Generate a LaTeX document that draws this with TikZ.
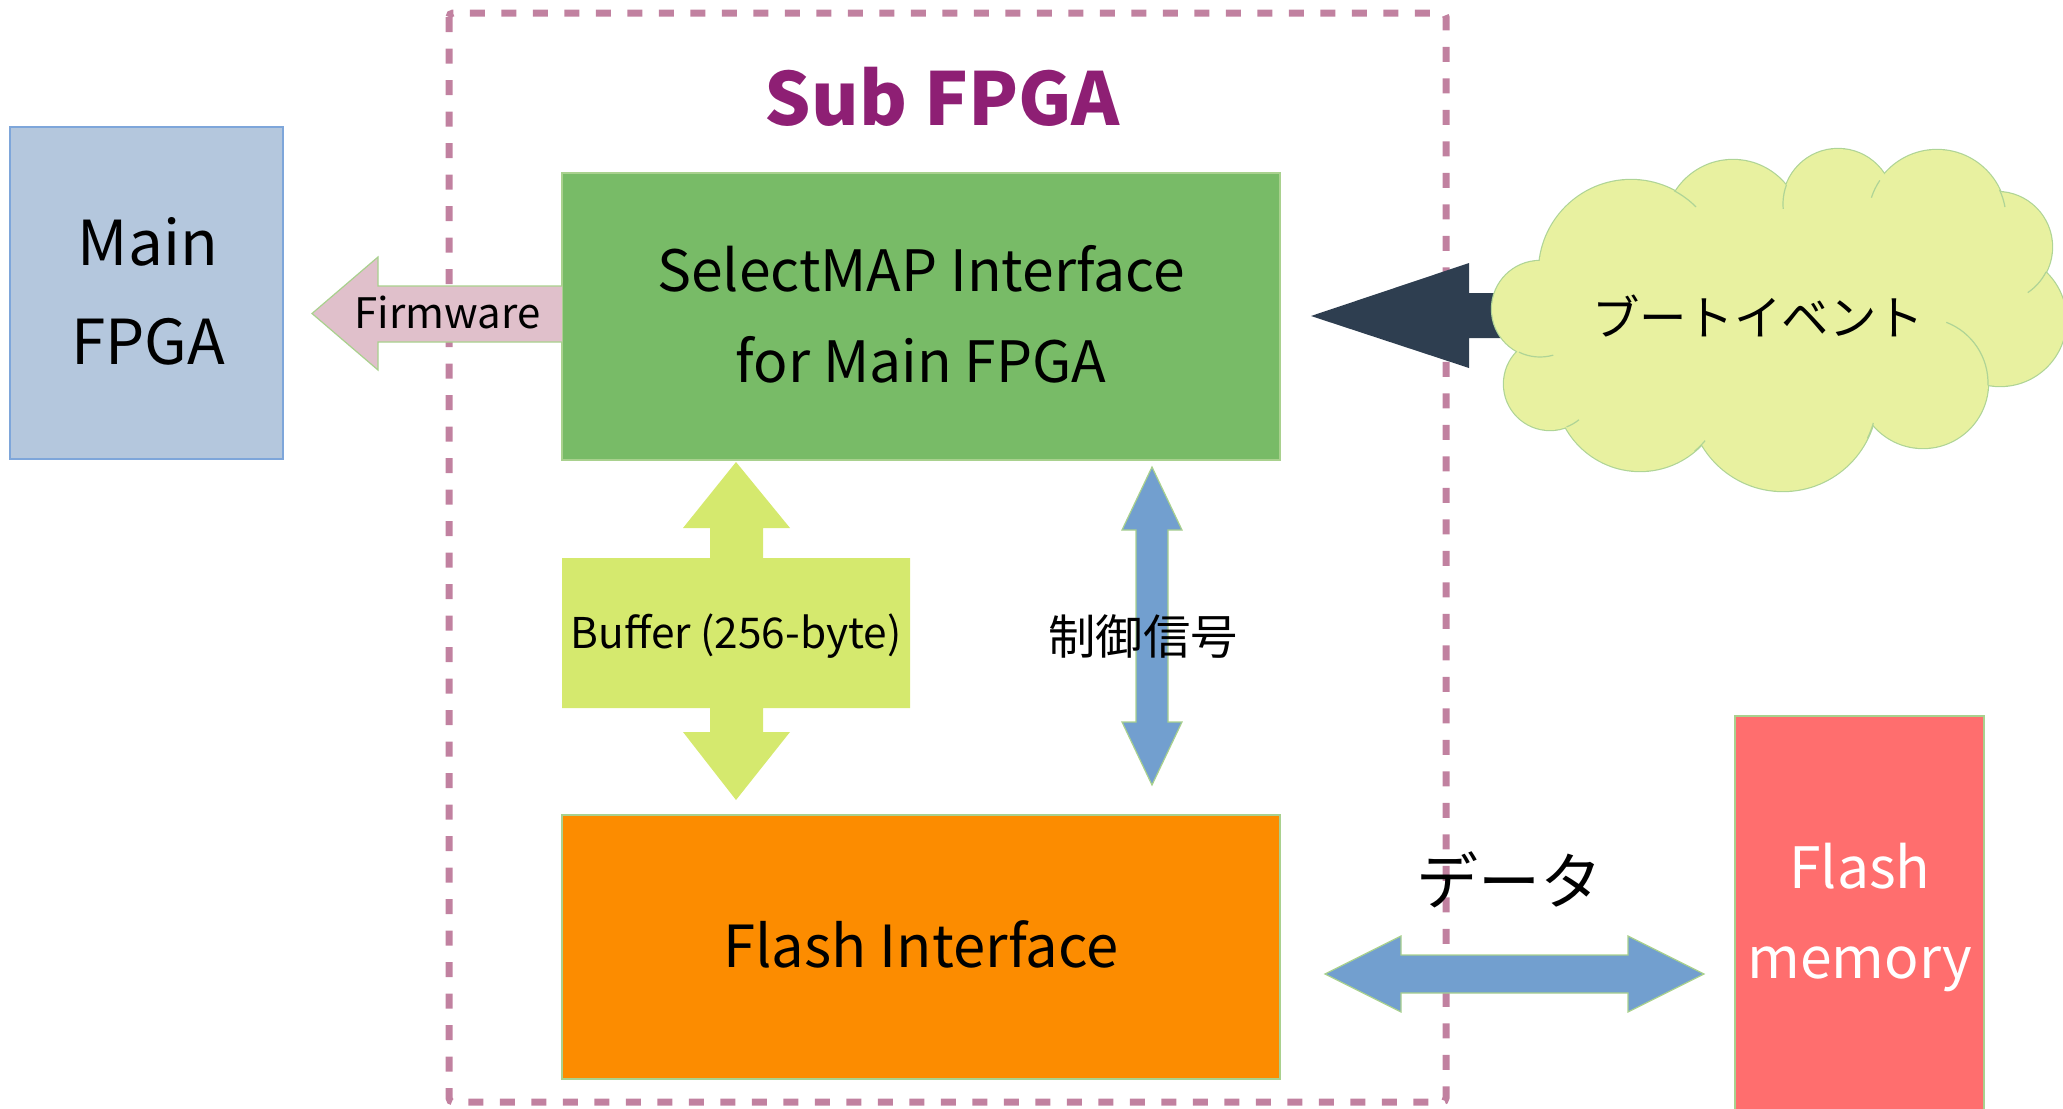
\documentclass[tikz,border=0pt]{standalone}
\usepackage{fontspec}
\setmainfont{Noto Sans CJK JP}
\usetikzlibrary{calc}
\definecolor{mainfill}{RGB}{180,199,221}
\definecolor{mainline}{RGB}{126,166,218}
\definecolor{framecol}{RGB}{193,129,160}
\definecolor{titlecol}{RGB}{142,31,116}
\definecolor{greenfill}{RGB}{120,187,103}
\definecolor{thinline}{RGB}{169,209,142}
\definecolor{pinkfill}{RGB}{224,192,203}
\definecolor{darkarrow}{RGB}{46,62,80}
\definecolor{cloudfill}{RGB}{232,241,160}
\definecolor{cloudline}{RGB}{175,212,150}
\definecolor{bufferfill}{RGB}{213,233,110}
\definecolor{bluearrow}{RGB}{114,159,207}
\definecolor{orangefill}{RGB}{252,140,0}
\definecolor{redfill}{RGB}{255,110,110}
\tikzset{
  blk/.style={rectangle, inner sep=0pt, line width=0.75pt},
  lbl/.style={inner sep=0pt, anchor=base},
  blockarrow/.style={line width=0.6pt, draw=thinline},
  fs/.style={font=\fontsize{#1}{#1}\selectfont}
}
\begin{document}
\begin{tikzpicture}[x=0.5pt,y=-0.5pt]
\useasboundingbox (0,0) rectangle (2063,1109);

% Main FPGA
\node[blk, fill=mainfill, draw=mainline, minimum width=136.5pt, minimum height=166pt] (mainfpga) at (146.5,293) {};
\node[lbl, fs=31] (mainA) at (148,265) {Main};
\node[lbl, fs=31] (mainB) at (148,364) {FPGA};

% Sub FPGA frame
\draw[framecol, line width=3.5pt, dash pattern=on 7.5pt off 8.25pt, rounded corners=2pt] (449,13) rectangle (1446,1102);
\node[lbl, text=titlecol, font=\bfseries\fontsize{36.5}{36.5}\selectfont] (title) at (942,125) {Sub FPGA};

% SelectMAP box
\node[blk, fill=greenfill, draw=thinline, minimum width=359pt, minimum height=143.5pt] (selmap) at (921,316.5) {};
\node[lbl, fs=28.5] (selA) at (921,291) {SelectMAP Interface};
\node[lbl, fs=28.5] (selB) at (921,382) {for Main FPGA};

% Firmware arrow
\filldraw[blockarrow, fill=pinkfill] (562,286) -- (378,286) -- (378,257) -- (312,313.5) -- (378,370) -- (378,342) -- (562,342);
\node[lbl, fs=21] (firmware) at (447.5,328) {Firmware};

% Buffer double arrow with box
\fill[bufferfill] (736,462) -- (790,528) -- (763,528) -- (763,558) -- (910,558) -- (910,708) -- (763,708) -- (763,732) -- (790,732) -- (736,800) -- (683,732) -- (710,732) -- (710,708) -- (562,708) -- (562,558) -- (710,558) -- (710,528) -- (683,528) -- cycle;
\node[lbl, fs=21.2] (buffer) at (736,648) {Buffer (256-byte)};

% control arrow
\filldraw[blockarrow, fill=bluearrow] (1152,467) -- (1182,530) -- (1168,530) -- (1168,722) -- (1182,722) -- (1152,785) -- (1122,722) -- (1136,722) -- (1136,530) -- (1122,530) -- cycle;
\node[inner sep=0pt, fs=23.7] (ctrl) at (1143,637) {制御信号};

% Flash interface
\node[blk, fill=orangefill, draw=thinline, minimum width=359pt, minimum height=132pt] (flashif) at (921,947) {};
\node[lbl, fs=29] (flashiftxt) at (921,967) {Flash Interface};

% data arrow
\filldraw[blockarrow, fill=bluearrow] (1325,974) -- (1401,936) -- (1401,955) -- (1628,955) -- (1628,936) -- (1704,974) -- (1628,1012) -- (1628,993) -- (1401,993) -- (1401,1012) -- cycle;
\node[inner sep=0pt, fs=31] (data) at (1509,880) {データ};

% Flash memory
\node[blk, fill=redfill, draw=thinline, minimum width=124.5pt, minimum height=202pt] (flashmem) at (1859.5,918) {};
\node[lbl, fs=28.5, text=white] (fmA) at (1860,888) {Flash};
\node[lbl, fs=28.5, text=white] (fmB) at (1860,978) {memory};

% boot arrow
\fill[darkarrow] (1540,293) -- (1469,293) -- (1469,263) -- (1311,316) -- (1469,368) -- (1469,338) -- (1540,338) -- cycle;

% cloud
\foreach \cx/\cy/\r in {1540/309/48, 1631/272/92, 1733/228/68, 1838/204/55, 1937/219/69, 1997/247/55, 2000/320/66, 1923/383/65, 1783/397/94, 1640/386/85, 1550/384/46}{
  \filldraw[draw=cloudline, line width=1.2pt, fill=cloudfill] (\cx,\cy) circle[radius=\r*0.5pt];
}
\foreach \cx/\cy/\r in {1540/309/48, 1631/272/92, 1733/228/68, 1838/204/55, 1937/219/69, 1997/247/55, 2000/320/66, 1923/383/65, 1783/397/94, 1640/386/85, 1550/384/46}{
  \fill[cloudfill] (\cx,\cy) circle[radius=\r*0.5pt];
}
\fill[cloudfill] (1770,315) ellipse[x radius=110pt, y radius=60pt];
% inner arc stubs of the cloud outline
\foreach \cx/\cy/\r/\a/\b in {1540/309/48/-116/-74, 1631/272/92/62/45, 1838/204/55/160/185, 1937/219/69/146/162, 1937/219/69/25/10, 1997/247/55/-27/-56, 1923/383/65/-2/69, 1783/397/94/-26/-16, 1640/386/85/-50/-40, 1550/384/46/-69/-51}{
  \draw[cloudline, line width=0.6pt] ($(\cx,\cy)+(\a:\r*0.5pt)$) arc[start angle=\a, end angle=\b, radius=\r*0.5pt];
}
\node[inner sep=0pt, fs=23.7] (boot) at (1758,316) {ブートイベント};

\end{tikzpicture}
\end{document}
